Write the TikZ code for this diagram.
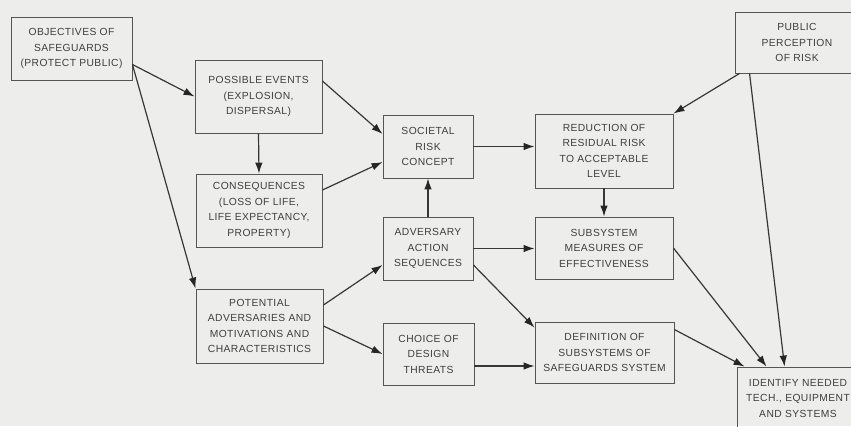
\documentclass[tikz,border=0pt]{standalone}
\usepackage{fontspec}
\setmainfont{Liberation Sans}[LetterSpace=4]
\usetikzlibrary{arrows.meta,calc}
\definecolor{paper}{RGB}{237,237,235}
\definecolor{ink}{RGB}{55,55,55}
\definecolor{textink}{RGB}{62,62,62}
\tikzset{
  box/.style={draw=ink!85, line width=0.9pt, inner sep=0pt, align=center,
              text=textink, font=\fontsize{10.3}{15.5}\selectfont},
  flow/.style={draw=ink, line width=1.2pt,
               -{Latex[length=11pt,width=7.5pt,color=black!85]}},
}
\begin{document}
\begin{tikzpicture}[x=1pt,y=-1pt]
  \fill[paper] (0,0) rectangle (851,426);
  \useasboundingbox (0,0) rectangle (851,426);
  \clip (0,0) rectangle (851,426);

  % first column
  \node[box, minimum width=121pt, minimum height=63pt] (obj) at (71.5,48.5)
    {OBJECTIVES OF\\SAFEGUARDS\\(PROTECT PUBLIC)};

  % second column
  \node[box, minimum width=127pt, minimum height=73pt] (pe) at (258.5,96.5)
    {POSSIBLE EVENTS\\(EXPLOSION,\\DISPERSAL)};
  \node[box, minimum width=126pt, minimum height=73pt] (cons) at (259,210.5)
    {CONSEQUENCES\\(LOSS OF LIFE,\\LIFE EXPECTANCY,\\PROPERTY)};
  \node[box, minimum width=127pt, minimum height=74pt] (pot) at (259.5,326)
    {POTENTIAL\\ADVERSARIES AND\\MOTIVATIONS AND\\CHARACTERISTICS};

  % third column
  \node[box, minimum width=90pt, minimum height=63pt] (soc) at (428,146.5)
    {SOCIETAL\\RISK\\CONCEPT};
  \node[box, minimum width=90pt, minimum height=63pt] (adv) at (428,248.5)
    {ADVERSARY\\ACTION\\SEQUENCES};
  \node[box, minimum width=91pt, minimum height=62pt] (cho) at (428.5,354)
    {CHOICE OF\\DESIGN\\THREATS};

  % fourth column
  \node[box, minimum width=138pt, minimum height=74pt] (red) at (604,151)
    {REDUCTION OF\\RESIDUAL RISK\\TO ACCEPTABLE\\LEVEL};
  \node[box, minimum width=138pt, minimum height=62pt] (sub) at (604,248)
    {SUBSYSTEM\\MEASURES OF\\EFFECTIVENESS};
  \node[box, minimum width=139pt, minimum height=61pt] (def) at (604.5,352.5)
    {DEFINITION OF\\SUBSYSTEMS OF\\SAFEGUARDS SYSTEM};

  % right column
  \node[box, minimum width=124pt, minimum height=61pt] (pub) at (797,42.5)
    {PUBLIC\\PERCEPTION\\OF RISK};
  \node[box, minimum width=122pt, minimum height=62pt] (ide) at (798,398)
    {IDENTIFY NEEDED\\TECH., EQUIPMENT\\AND SYSTEMS};

  % connectors
  \draw[flow] ([yshift=-16pt]obj.east) -- (pe.west);
  \draw[flow] ([yshift=-16pt]obj.east) -- (pot.north west);
  \draw[flow] (pe.south) -- (cons.north);
  \draw[flow] ([yshift=15.5pt]pe.east) -- ([yshift=12.5pt]soc.west);
  \draw[flow] ([yshift=20.5pt]cons.east) -- ([yshift=-15.5pt]soc.west);
  \draw[flow] (adv.north) -- (soc.south);
  \draw[flow] ([yshift=21pt]pot.east) -- ([yshift=-16.5pt]adv.west);
  \draw[flow] (pot.east) -- (cho.west);
  \draw[flow] (soc.east) -- (soc.east -| red.west);
  \draw[flow] (adv.east) -- (adv.east -| sub.west);
  \draw[flow] ([yshift=-16.5pt]adv.east) -- ([yshift=-6pt]def.north west);
  \draw[flow] ([yshift=-12pt]cho.east) -- ([yshift=-12pt]cho.east -| def.west);
  \draw[flow] (red.south) -- (sub.north);
  \draw[flow] ([xshift=5pt]pub.south west) -- (red.north east);
  \draw[flow] ([xshift=15pt]pub.south west) -- ([xshift=48pt]ide.north west);
  \draw[flow] (sub.east) -- ([xshift=30pt]ide.north west);
  \draw[flow] ([yshift=-8pt]def.north east) -- ([xshift=8pt]ide.north west);
\end{tikzpicture}
\end{document}
